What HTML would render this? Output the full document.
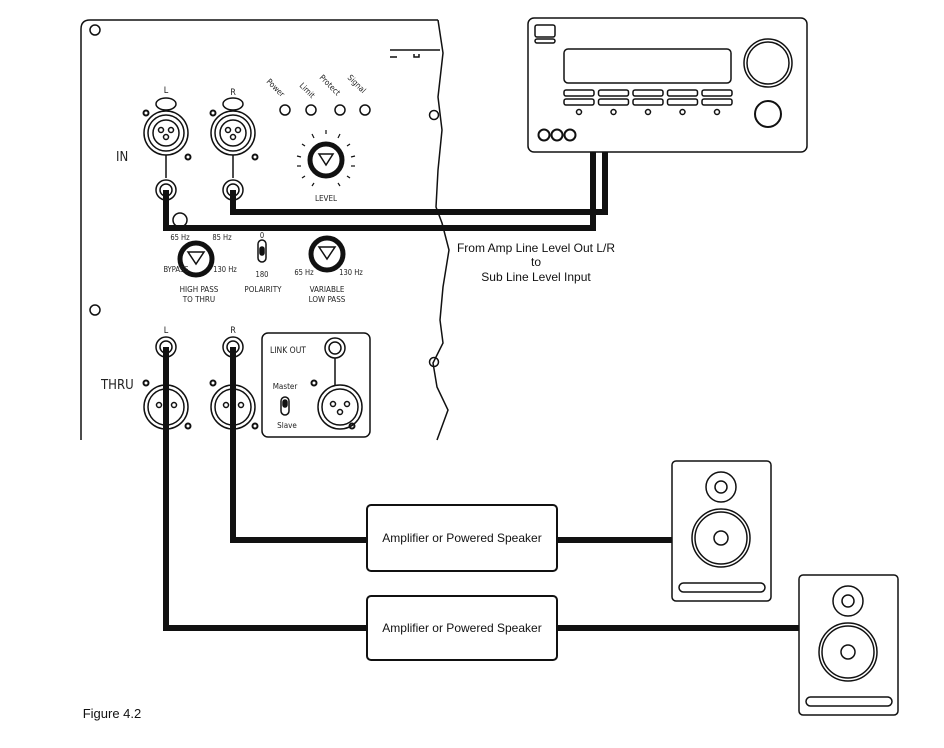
<!DOCTYPE html>
<html><head><meta charset="utf-8"><style>
body{margin:0;background:#fff}
svg{display:block;font-family:"DejaVu Sans Condensed","Liberation Sans",sans-serif}
.t{font-size:8px;fill:#222}
</style></head><body>
<svg width="944" height="748" viewBox="0 0 944 748" xmlns="http://www.w3.org/2000/svg">
<g fill="none" stroke="#111" stroke-width="1.5">
<!-- panel -->
<path d="M438,20 L90,20 Q81,20 81,29 L81,440"/>
<polyline points="438,20 443,53 438,97 442,130 438,170 436,207 442,223 449,250 443,287 440,320 443,343 433,363 437,387 448,410 437,440"/>
<circle cx="95" cy="30" r="5"/><circle cx="95" cy="310" r="5"/>
<circle cx="434" cy="115" r="4.5"/><circle cx="434" cy="362" r="4.5"/>
<path d="M390,50 H440 M390,57 H397 M414,54 V57 H419 V54"/>
<!-- IN XLRs -->
<g id="xlr">
<circle cx="166" cy="133" r="22"/><circle cx="166" cy="133" r="18"/><circle cx="166" cy="133" r="13"/>
<circle cx="161" cy="130" r="2.5"/><circle cx="171" cy="130" r="2.5"/><circle cx="166" cy="137" r="2.5"/>
<ellipse cx="166" cy="104" rx="10" ry="6"/>
<circle cx="146" cy="113" r="2.5" stroke-width="2"/><circle cx="188" cy="157" r="2.5" stroke-width="2"/>
<line x1="166" y1="155" x2="166" y2="178"/>
<circle cx="166" cy="190" r="10"/><circle cx="166" cy="190" r="6"/>
</g>
<use href="#xlr" x="67"/>
<circle cx="180" cy="220" r="7"/>
<circle cx="285" cy="110" r="5"/><circle cx="311" cy="110" r="5"/><circle cx="340" cy="110" r="5"/><circle cx="365" cy="110" r="5"/>
<!-- level -->
<circle cx="326" cy="160" r="16" stroke-width="5"/>
<path d="M319,154 L326,165 L333,154 Z" stroke-width="1.5"/>
<g stroke-width="1.2">
<line x1="326" y1="130" x2="326" y2="134"/><line x1="312" y1="134" x2="314" y2="138"/><line x1="340" y1="134" x2="338" y2="138"/>
<line x1="302" y1="144" x2="305" y2="146"/><line x1="350" y1="144" x2="347" y2="146"/>
<line x1="297" y1="156" x2="301" y2="157"/><line x1="355" y1="156" x2="351" y2="157"/>
<line x1="297" y1="166" x2="301" y2="166"/><line x1="355" y1="166" x2="351" y2="166"/>
<line x1="302" y1="178" x2="305" y2="176"/><line x1="350" y1="178" x2="347" y2="176"/>
<line x1="312" y1="186" x2="314" y2="183"/><line x1="340" y1="186" x2="338" y2="183"/>
</g>
<!-- HP / LP knobs -->
<circle cx="196" cy="259" r="16" stroke-width="5"/><path d="M188,252 L196,264 L204,252 Z"/>
<circle cx="327" cy="254" r="16" stroke-width="5"/><path d="M319,247 L327,259 L335,247 Z"/>
<rect x="258" y="240" width="8" height="22" rx="4"/><rect x="260" y="247" width="4" height="8" rx="2" fill="#111"/>
<!-- THRU -->
<g id="thru">
<circle cx="166" cy="347" r="10"/><circle cx="166" cy="347" r="6"/>
<circle cx="166" cy="407" r="22"/><circle cx="166" cy="407" r="18"/>
<circle cx="159" cy="405" r="2.5"/><circle cx="174" cy="405" r="2.5"/>
<circle cx="146" cy="383" r="2.5" stroke-width="2"/><circle cx="188" cy="426" r="2.5" stroke-width="2"/>
</g>
<use href="#thru" x="67"/>
<rect x="262" y="333" width="108" height="104" rx="6"/>
<circle cx="335" cy="348" r="10"/><circle cx="335" cy="348" r="6"/>
<line x1="335" y1="358" x2="335" y2="385"/>
<circle cx="340" cy="407" r="22"/><circle cx="340" cy="407" r="18"/>
<circle cx="333" cy="404" r="2.5"/><circle cx="347" cy="404" r="2.5"/><circle cx="340" cy="412" r="2.5"/>
<circle cx="314" cy="383" r="2.5" stroke-width="2"/><circle cx="352" cy="426" r="2.5" stroke-width="2"/>
<rect x="281" y="397" width="8" height="18" rx="4"/><rect x="283" y="400" width="4" height="7" rx="2" fill="#111"/>
<!-- receiver -->
<rect x="528" y="18" width="279" height="134" rx="6"/>
<rect x="535" y="25" width="20" height="12" rx="2"/><rect x="535" y="39" width="20" height="4" rx="2"/>
<rect x="564" y="49" width="167" height="34" rx="4"/>
<g id="btn"><rect x="564" y="90" width="30" height="6" rx="2"/><rect x="564" y="99" width="30" height="6" rx="2"/><circle cx="579" cy="112" r="2.5"/></g>
<use href="#btn" x="34.5"/><use href="#btn" x="69"/><use href="#btn" x="103.5"/><use href="#btn" x="138"/>
<circle cx="768" cy="63" r="24"/><circle cx="768" cy="63" r="21"/>
<circle cx="768" cy="114" r="13" stroke-width="2"/>
<circle cx="544" cy="135" r="5.5" stroke-width="2"/><circle cx="557" cy="135" r="5.5" stroke-width="2"/><circle cx="570" cy="135" r="5.5" stroke-width="2"/>
<!-- amps -->
<rect x="367" y="505" width="190" height="66" rx="4" stroke-width="2"/>
<rect x="367" y="596" width="190" height="64" rx="4" stroke-width="2"/>
<!-- speakers -->
<g id="spk">
<rect x="672" y="461" width="99" height="140" rx="4"/>
<circle cx="721" cy="487" r="15"/><circle cx="721" cy="487" r="6"/>
<circle cx="721" cy="538" r="29"/><circle cx="721" cy="538" r="26"/><circle cx="721" cy="538" r="7"/>
<rect x="679" y="583" width="86" height="9" rx="4.5"/>
</g>
<use href="#spk" x="127" y="114"/>
</g>
<!-- cables -->
<g fill="none" stroke="#111" stroke-width="6" stroke-linejoin="miter">
<polyline points="166,190 166,228 593,228 593,152"/>
<polyline points="233,190 233,212 605,212 605,152"/>
<polyline points="166,347 166,628 367,628"/>
<polyline points="233,347 233,540 367,540"/>
<line x1="557" y1="540" x2="672" y2="540"/>
<line x1="557" y1="628" x2="799" y2="628"/>
</g>
<g class="t" text-anchor="middle">
<text x="166" y="93" font-size="9">L</text><text x="233" y="95" font-size="9">R</text>
<text x="166" y="333" font-size="9">L</text><text x="233" y="333" font-size="9">R</text>
<text x="180" y="240" font-size="7.5">65 Hz</text><text x="222" y="240" font-size="7.5">85 Hz</text>
<text x="176" y="272" font-size="7.5">BYPASS</text><text x="225" y="272" font-size="7.5">130 Hz</text>
<text x="199" y="292">HIGH PASS</text><text x="199" y="302">TO THRU</text>
<text x="262" y="238" font-size="7.5">0</text><text x="262" y="277" font-size="7.5">180</text>
<text x="263" y="292">POLAIRITY</text>
<text x="304" y="275" font-size="7.5">65 Hz</text><text x="351" y="275" font-size="7.5">130 Hz</text>
<text x="327" y="292">VARIABLE</text><text x="327" y="302">LOW PASS</text>
<text x="326" y="201">LEVEL</text>
</g>
<g class="t" font-size="9">
<text transform="translate(266,82) rotate(45)">Power</text>
<text transform="translate(299,86) rotate(45)">Limit</text>
<text transform="translate(319,78) rotate(45)">Protect</text>
<text transform="translate(347,78) rotate(45)">Signal</text>
<text x="116" y="161" font-size="13">IN</text>
<text x="101" y="389" font-size="13">THRU</text>
<text x="270" y="353" font-size="8.5">LINK OUT</text>
<text x="285" y="389" font-size="8" text-anchor="middle">Master</text>
<text x="287" y="428" font-size="8" text-anchor="middle">Slave</text>
</g>
<g font-family="Liberation Sans, sans-serif" font-size="12" fill="#111" text-anchor="middle">
<text x="536" y="252">From Amp Line Level Out L/R</text>
<text x="536" y="266">to</text>
<text x="536" y="281">Sub Line Level Input</text>
<text x="462" y="542">Amplifier or Powered Speaker</text>
<text x="462" y="632">Amplifier or Powered Speaker</text>
<text x="112" y="718" font-size="13">Figure 4.2</text>
</g>
</svg>
</body></html>
